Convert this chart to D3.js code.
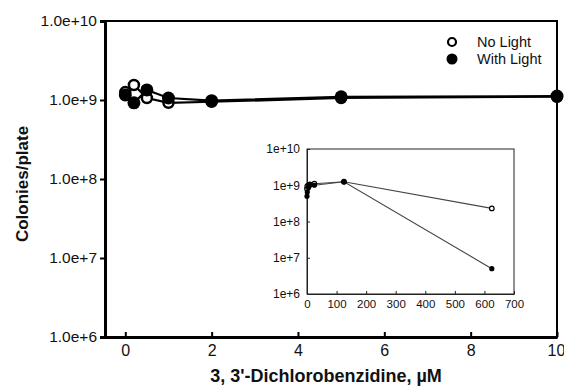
<!DOCTYPE html>
<html>
<head>
<meta charset="utf-8">
<script src="https://cdn.jsdelivr.net/npm/d3@7"></script>
<style>
  body { margin: 0; background: #fff; }
  svg text { font-family: "Liberation Sans", Arial, Helvetica, sans-serif; fill: #111; }
</style>
</head>
<body>
<div id="chart"></div>
<script>
// main panel data
var doses = [0, 0.2, 0.5, 1, 2, 5, 10];
var noLight = [1.26e9, 1.55e9, 1.06e9, 0.92e9, 0.95e9, 1.06e9, 1.1e9];
var withLight = [1.16e9, 0.92e9, 1.34e9, 1.06e9, 0.98e9, 1.1e9, 1.12e9];

// inset data (full dose range)
var insetDoses = [0, 1, 5, 10, 25, 125, 625];
var insetNoLight = [8e8, 9.5e8, 1.0e9, 1.05e9, 1.1e9, 1.25e9, 2.3e8];
var insetWithLight = [5e8, 6.5e8, 8.5e8, 1.0e9, 1.0e9, 1.25e9, 5e6];

var yTicks = [1e6, 1e7, 1e8, 1e9, 1e10];
var xTicks = [0, 2, 4, 6, 8, 10];
var insetXTicks = [0, 100, 200, 300, 400, 500, 600, 700];

var width = 564, height = 386;

var svg = d3.select("#chart").append("svg")
    .attr("width", width)
    .attr("height", height);

// ---- main panel ----
var x = d3.scaleLinear().domain([-0.47, 10]).range([105, 557]);
var y = d3.scaleLog().domain([1e6, 1e10]).range([337, 21]);

function pairs(xs, ys) {
  return xs.map(function(d, i) { return [d, ys[i]]; });
}

// frame
svg.append("rect")
  .attr("x", x.range()[0])
  .attr("y", y.range()[1])
  .attr("width", x.range()[1] - x.range()[0])
  .attr("height", y.range()[0] - y.range()[1])
  .attr("fill", "none")
  .attr("stroke", "#000")
  .attr("stroke-width", 2);

var yAxis = svg.append("g")
  .attr("transform", "translate(" + x.range()[0] + ",0)")
  .call(d3.axisLeft(y).tickValues(yTicks).tickSize(5).tickPadding(3)
        .tickFormat(d3.format(".1e")));
yAxis.select(".domain").attr("stroke-width", 3);
yAxis.selectAll(".tick line").attr("stroke-width", 2);
yAxis.selectAll("text").style("font-size", "15.5px");

var xAxis = svg.append("g")
  .attr("transform", "translate(0," + y.range()[0] + ")")
  .call(d3.axisBottom(x).tickValues(xTicks).tickSizeInner(-5).tickSizeOuter(0).tickPadding(8));
xAxis.select(".domain").attr("stroke-width", 3);
xAxis.selectAll(".tick line").attr("stroke-width", 2);
xAxis.selectAll("text").style("font-size", "16px");
xAxis.selectAll(".tick").filter(function(d) { return d === 10; })
  .select("text").attr("dx", "-1px");

svg.append("text")
  .attr("transform", "translate(28,184) rotate(-90)")
  .attr("text-anchor", "middle")
  .style("font-size", "17px")
  .style("font-weight", "bold")
  .text("Colonies/plate");

svg.append("text")
  .attr("x", 326)
  .attr("y", 382)
  .attr("text-anchor", "middle")
  .style("font-size", "18px")
  .style("font-weight", "bold")
  .text("3, 3'-Dichlorobenzidine, \u00b5M");

var line = d3.line()
  .x(function(d) { return x(d[0]); })
  .y(function(d) { return y(d[1]); });

[pairs(doses, withLight), pairs(doses, noLight)].forEach(function(s) {
  svg.append("path")
    .attr("d", line(s))
    .attr("fill", "none")
    .attr("stroke", "#000")
    .attr("stroke-width", 2.2);
});

svg.selectAll(".open-pt")
  .data(pairs(doses, noLight))
  .enter().append("circle")
  .attr("class", "open-pt")
  .attr("cx", function(d) { return x(d[0]); })
  .attr("cy", function(d) { return y(d[1]); })
  .attr("r", 5)
  .attr("fill", "#fff")
  .attr("stroke", "#000")
  .attr("stroke-width", 2.5);

svg.selectAll(".filled-pt")
  .data(pairs(doses, withLight))
  .enter().append("circle")
  .attr("class", "filled-pt")
  .attr("cx", function(d) { return x(d[0]); })
  .attr("cy", function(d) { return y(d[1]); })
  .attr("r", 6.5)
  .attr("fill", "#000");

// legend
var legend = svg.append("g");
legend.append("circle").attr("cx", 452).attr("cy", 42).attr("r", 4)
  .attr("fill", "#fff").attr("stroke", "#000").attr("stroke-width", 2.2);
legend.append("circle").attr("cx", 452).attr("cy", 59).attr("r", 5.5).attr("fill", "#000");
legend.append("text").attr("x", 477).attr("y", 47).style("font-size", "14.5px").text("No Light");
legend.append("text").attr("x", 477).attr("y", 64).style("font-size", "14.5px").text("With Light");

// ---- inset ----
var ix = d3.scaleLinear().domain([0, 700]).range([307, 514]);
var iy = d3.scaleLog().domain([1e6, 1e10]).range([294, 149]);

svg.append("rect")
  .attr("x", ix.range()[0])
  .attr("y", iy.range()[1])
  .attr("width", ix.range()[1] - ix.range()[0])
  .attr("height", iy.range()[0] - iy.range()[1])
  .attr("fill", "#fff")
  .attr("stroke", "#222")
  .attr("stroke-width", 1);

var iyAxis = svg.append("g")
  .attr("transform", "translate(" + ix.range()[0] + ",0)")
  .call(d3.axisLeft(iy).tickValues(yTicks).tickSizeInner(-3).tickSizeOuter(0).tickPadding(7)
        .tickFormat(function(d) { return "1e+" + Math.round(Math.log10(d)); }));
iyAxis.selectAll("text").style("font-size", "12px");

var ixAxis = svg.append("g")
  .attr("transform", "translate(0," + iy.range()[0] + ")")
  .call(d3.axisBottom(ix).tickValues(insetXTicks).tickSizeInner(-3).tickSizeOuter(0).tickPadding(6));
ixAxis.selectAll("text").style("font-size", "11.5px");

[iyAxis, ixAxis].forEach(function(a) {
  a.select(".domain").attr("stroke", "#222");
  a.selectAll(".tick line").attr("stroke", "#222");
});

var iline = d3.line()
  .x(function(d) { return ix(d[0]); })
  .y(function(d) { return iy(d[1]); });

[pairs(insetDoses, insetNoLight), pairs(insetDoses, insetWithLight)].forEach(function(s) {
  svg.append("path")
    .attr("d", iline(s))
    .attr("fill", "none")
    .attr("stroke", "#444")
    .attr("stroke-width", 1.1);
});

svg.selectAll(".inset-open")
  .data(pairs(insetDoses, insetNoLight))
  .enter().append("circle")
  .attr("class", "inset-open")
  .attr("cx", function(d) { return ix(d[0]); })
  .attr("cy", function(d) { return iy(d[1]); })
  .attr("r", 2.3)
  .attr("fill", "#fff")
  .attr("stroke", "#000")
  .attr("stroke-width", 1.2);

svg.selectAll(".inset-filled")
  .data(pairs(insetDoses, insetWithLight))
  .enter().append("circle")
  .attr("class", "inset-filled")
  .attr("cx", function(d) { return ix(d[0]); })
  .attr("cy", function(d) { return iy(d[1]); })
  .attr("r", 2.6)
  .attr("fill", "#000");
</script>
</body>
</html>
